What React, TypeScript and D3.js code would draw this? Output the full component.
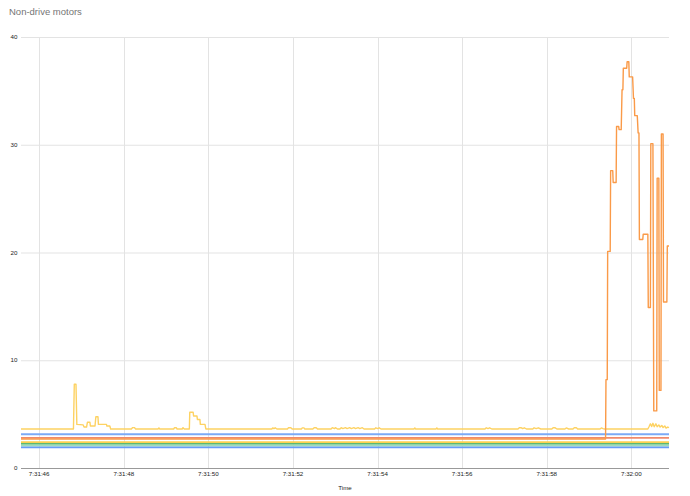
import React from "react";
import * as d3 from "d3";

const W = 690;
const H = 496;
const M = { left: 21, right: 669, top: 37, bottom: 468 };

const title = "Non-drive motors";
const xAxisTitle = "Time";
const yTicks = [0, 10, 20, 30, 40];
const startSec = 45.57;
const endSec = 60.89;

// Yellow series (seconds after 7:31:00, value)
const yellowT = [45.57, 46.81, 46.83, 46.87, 46.89, 47.04, 47.06, 47.12, 47.14, 47.2, 47.21, 47.32, 47.34, 47.39, 47.4, 47.59, 47.6, 47.67, 47.69,
  48.18, 48.21, 48.25, 48.28, 48.81, 48.83, 48.85, 49.18, 49.2, 49.24, 49.26, 49.38, 49.4, 49.43,
  49.55, 49.56, 49.64, 49.65, 49.73, 49.74, 49.8, 49.81, 49.92, 49.94,
  51.5, 51.52, 51.55, 51.58, 51.62, 51.87, 51.89, 51.95, 51.98,
  52.2, 52.22, 52.26, 52.28, 52.47, 52.5, 52.55, 52.58,
  52.9, 52.93, 52.98, 53.01, 53.05,
  53.11, 53.14, 53.18, 53.24, 53.28, 53.34, 53.38, 53.44, 53.48, 53.54, 53.58, 53.64, 53.68,
  53.93, 53.96, 54.0, 54.04, 54.08, 54.86, 54.88, 54.9, 55.38, 55.4, 55.42,
  56.54, 56.57, 56.61, 56.65, 56.7, 57.32, 57.35, 57.4, 57.43, 57.47, 57.52,
  57.67, 57.7, 57.75, 57.8, 57.86, 58.12, 58.15, 58.2, 58.24, 58.43, 58.46, 58.52,
  58.62, 58.65, 58.7, 58.73, 59.26, 59.29, 59.33, 59.36,
  60.39, 60.42, 60.45, 60.48, 60.51, 60.54, 60.58, 60.61, 60.65, 60.68, 60.72, 60.75, 60.79, 60.82, 60.86, 60.89];
const yellowV = [3.62, 3.62, 7.77, 7.77, 4.05, 4.0, 3.8, 3.8, 4.24, 4.24, 3.9, 3.9, 4.76, 4.76, 4.05, 4.05, 3.9, 3.9, 3.62,
  3.62, 3.75, 3.75, 3.62, 3.62, 3.72, 3.62, 3.62, 3.74, 3.74, 3.62, 3.62, 3.74, 3.62,
  3.62, 5.17, 5.17, 4.83, 4.83, 4.5, 4.5, 4.05, 4.05, 3.62,
  3.62, 3.72, 3.65, 3.73, 3.62, 3.62, 3.73, 3.73, 3.62,
  3.62, 3.72, 3.72, 3.62, 3.62, 3.73, 3.73, 3.62,
  3.62, 3.74, 3.66, 3.74, 3.62,
  3.62, 3.74, 3.66, 3.74, 3.66, 3.74, 3.66, 3.74, 3.66, 3.74, 3.66, 3.74, 3.62,
  3.62, 3.73, 3.66, 3.73, 3.62, 3.62, 3.72, 3.62, 3.62, 3.72, 3.62,
  3.62, 3.73, 3.66, 3.73, 3.62, 3.62, 3.73, 3.73, 3.66, 3.73, 3.62,
  3.62, 3.73, 3.66, 3.73, 3.62, 3.62, 3.73, 3.73, 3.62, 3.62, 3.72, 3.62,
  3.62, 3.73, 3.73, 3.62, 3.62, 3.72, 3.65, 3.62,
  3.62, 3.85, 4.1, 3.85, 4.15, 3.83, 4.1, 3.83, 4.0, 3.8, 3.95, 3.75, 3.9, 3.7, 3.8, 3.75];

// Orange series that spikes at the end
const orangeT = [45.57, 59.39, 59.4, 59.43, 59.44, 59.5, 59.51, 59.56, 59.57, 59.64, 59.65, 59.7, 59.71, 59.76, 59.78, 59.8, 59.81, 59.89, 59.9, 59.94, 59.95, 60.03, 60.05, 60.07, 60.08, 60.14, 60.16, 60.18,
  60.19, 60.27, 60.28, 60.39, 60.4, 60.45, 60.46, 60.51, 60.53, 60.6, 60.61, 60.65, 60.66, 60.7, 60.71, 60.75, 60.76, 60.84, 60.85, 60.89];
const orangeV = [2.69, 2.69, 8.2, 8.2, 20.1, 20.1, 27.6, 27.6, 26.5, 26.5, 31.7, 31.7, 31.4, 31.4, 35.1, 35.1, 37.1, 37.1, 37.7, 37.7, 36.3, 36.3, 34.3, 34.3, 32.7, 32.7, 31.1, 31.1,
  21.2, 21.2, 21.7, 21.7, 14.9, 14.9, 30.1, 30.1, 5.3, 5.3, 26.9, 26.9, 7.2, 7.2, 31.0, 31.0, 15.4, 15.4, 20.6, 20.6];

// Flat series
const flatValues = [3.13, 2.8, 2.41, 2.23, 2.09, 1.92];
const flatColors = ["#7baaf7", "#f08a6c", "#fcd04f", "#5bb974", "#9fdcb8", "#669df6"];
const yellowColor = "#fdd262";
const orangeColor = "#fa9a48";

const base = new Date(2020, 0, 1, 7, 31, 0).getTime();
const toDate = (s: number) => new Date(base + s * 1000);

export default function App() {
  const x = d3.scaleTime().domain([toDate(startSec), toDate(endSec)]).range([M.left, M.right]);
  const y = d3.scaleLinear().domain([0, 40]).range([M.bottom, M.top]);
  const line = d3.line<[number, number]>().x((d) => x(toDate(d[0]))).y((d) => y(d[1]));
  const xTicks = x.ticks(d3.timeSecond.every(2) as any);
  const fmt = d3.timeFormat("%-I:%M:%S");
  const font = "Arial, 'Liberation Sans', sans-serif";

  const yellowPts = yellowT.map((t, i) => [t, yellowV[i]] as [number, number]);
  const orangePts = orangeT.map((t, i) => [t, orangeV[i]] as [number, number]);

  return (
    <svg width={W} height={H} style={{ position: "absolute", left: 0, top: 0, background: "#fff" }} fontFamily={font}>
      <text x={9} y={15} fontSize={9.5} fill="#757575">{title}</text>
      {yTicks.filter((v) => v !== 0).map((v) => (
        <line key={"h" + v} x1={M.left} x2={M.right} y1={y(v) + 0.5} y2={y(v) + 0.5} stroke="#e3e3e3" strokeWidth={1} />
      ))}
      {xTicks.map((t, i) => (
        <line key={"v" + i} x1={Math.round(x(t)) + 0.5} x2={Math.round(x(t)) + 0.5} y1={M.top} y2={M.bottom} stroke="#e3e3e3" strokeWidth={1} />
      ))}
      {yTicks.map((v) => (
        <text key={"yl" + v} x={17.5} y={y(v) + 2} fontSize={6.2} textAnchor="end" fill="#222">{v}</text>
      ))}
      {xTicks.map((t, i) => (
        <text key={"xl" + i} x={x(t)} y={476} fontSize={6.2} textAnchor="middle" fill="#222">{fmt(t)}</text>
      ))}
      <text x={345} y={490} fontSize={6.2} textAnchor="middle" fill="#222">{xAxisTitle}</text>
      {flatValues.map((v, i) => (
        <path key={"f" + i} d={line([[startSec, v], [endSec, v]]) || ""} fill="none" stroke={flatColors[i]} strokeWidth={1.8} />
      ))}
      <path d={line(yellowPts) || ""} fill="none" stroke={yellowColor} strokeWidth={1.4} strokeLinejoin="round" />
      <path d={line(orangePts) || ""} fill="none" stroke={orangeColor} strokeWidth={1.4} strokeLinejoin="round" />
      <line x1={M.left} x2={M.right} y1={M.bottom + 0.5} y2={M.bottom + 0.5} stroke="#999" strokeWidth={1} />
    </svg>
  );
}
